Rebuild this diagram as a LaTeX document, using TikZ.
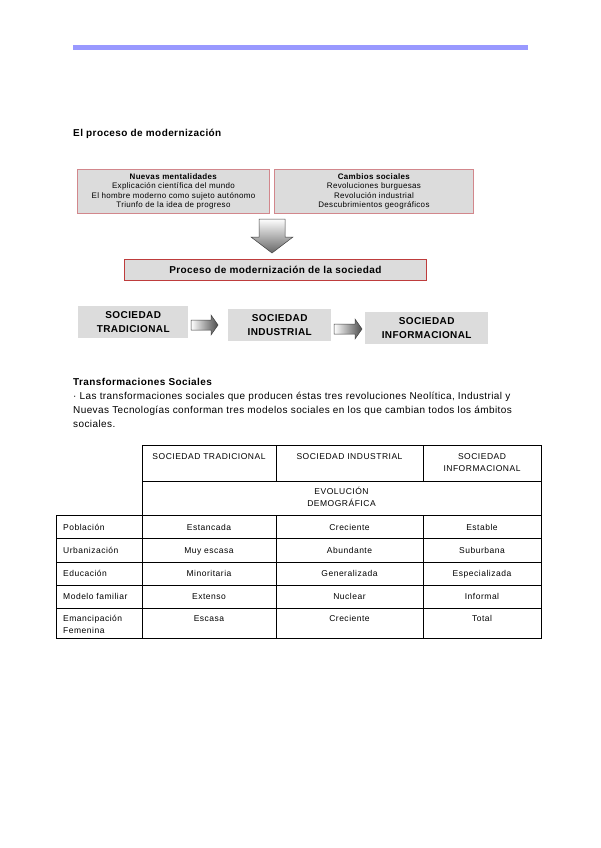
\documentclass[tikz,border=0pt]{standalone}
\usepackage{fontspec}
\setmainfont{Liberation Sans}[LetterSpace=4]
\newfontfamily\tabfont[LetterSpace=6]{Liberation Sans}
\usepackage{tikz}
\usetikzlibrary{positioning,calc}

\definecolor{barraAzul}{RGB}{153,153,255}
\definecolor{grisCaja}{RGB}{220,220,220}
\definecolor{bordeRosa}{RGB}{210,135,140}
\definecolor{bordeRojo}{RGB}{190,60,60}

\begin{document}
\begin{tikzpicture}[
    x=1pt, y=-1pt,
    idea/.style={draw=bordeRosa, fill=grisCaja, line width=0.9pt, inner sep=0pt,
                 anchor=north west, align=center, font=\fontsize{8}{9.4}\selectfont},
    sociedad/.style={fill=grisCaja, inner sep=0pt, anchor=north west, align=center,
                     font=\bfseries\fontsize{10}{14}\selectfont},
    celda/.style={anchor=base, align=center, inner sep=0pt,
                  font=\tabfont\fontsize{8.5}{12}\selectfont},
    rotulo/.style={celda, anchor=base west, align=left},
    tabla/.style={line width=0.9pt},
    flecha/.style={draw=black!75, line width=0.5pt}
]
    \useasboundingbox (0,0) rectangle (600,848);
    \fill[barraAzul] (73,45) rectangle (528,50);

    % el proceso de modernizacion
    \node[anchor=base west, inner sep=0pt, font=\bfseries] (titulo) at (73,136)
        {El proceso de modernización};
    \node[idea, minimum width=192pt, minimum height=44pt] (ment) at (77,169)
        {\textbf{Nuevas mentalidades}\\Explicación científica del mundo\\
         El hombre moderno como sujeto autónomo\\Triunfo de la idea de progreso};
    \node[idea, minimum width=199pt, minimum height=44pt] (camb) at (274,169)
        {\textbf{Cambios sociales}\\Revoluciones burguesas\\
         Revolución industrial\\Descubrimientos geográficos};
    \shadedraw[flecha, top color=white, bottom color=black!60]
        (259,219) -- (285,219) -- (285,237) -- (293,237) -- (272,253)
        -- (251,237) -- (259,237) -- cycle;
    \node[idea, draw=bordeRojo, minimum width=302pt, minimum height=21pt,
          font=\bfseries\fontsize{10}{12}\selectfont] (proc) at (124,259)
        {Proceso de modernización de la sociedad};

    % tres sociedades
    \node[sociedad, minimum width=110pt, minimum height=32pt] (trad) at (78,306)
        {SOCIEDAD\\TRADICIONAL};
    \node[sociedad, minimum width=103pt, minimum height=32pt] (ind) at (228,309)
        {SOCIEDAD\\INDUSTRIAL};
    \node[sociedad, minimum width=123pt, minimum height=32pt] (inf) at (365,312)
        {SOCIEDAD\\INFORMACIONAL};
    \shadedraw[flecha, left color=white, right color=black!70]
        (191,320) -- (211,320) -- (211,315) -- (218,325) -- (211,335)
        -- (211,330) -- (191,330) -- cycle;
    \shadedraw[flecha, left color=white, right color=black!70]
        (334,324) -- (355,324) -- (355,319) -- (362,329) -- (355,339)
        -- (355,334) -- (334,334) -- cycle;

    % transformaciones sociales
    \node[anchor=base west, inner sep=0pt, font=\bfseries] (trans) at (73,385)
        {Transformaciones Sociales};
    \node[anchor=base west, inner sep=0pt, align=left,
          font=\fontsize{10}{14}\selectfont] (parr) at (73,427.5)
        {· Las transformaciones sociales que producen éstas tres revoluciones Neolítica, Industrial y\\
         Nuevas Tecnologías conforman tres modelos sociales en los que cambian todos los ámbitos\\
         sociales.};

    % tabla
    \draw[tabla] (142,445) rectangle (541,515);
    \draw[tabla] (142,481) -- (541,481);
    \draw[tabla] (276,445) -- (276,481) (423,445) -- (423,481);
    \draw[tabla] (56,515) rectangle (541,638);
    \foreach \y in {538,562,585,608}
        \draw[tabla] (56,\y) -- (541,\y);
    \foreach \x in {142,276,423}
        \draw[tabla] (\x,515) -- (\x,638);

    \node[celda] (hTrad) at (209,459) {SOCIEDAD TRADICIONAL};
    \node[celda] (hInd) at (349.5,459) {SOCIEDAD INDUSTRIAL};
    \node[celda] (hInf) at (482,471) {SOCIEDAD\\INFORMACIONAL};
    \node[celda] (evo) at (341.5,506) {EVOLUCIÓN\\DEMOGRÁFICA};

    \foreach \y/\rot/\a/\b/\c [count=\i] in {
        530/Población/Estancada/Creciente/Estable,
        553/Urbanización/Muy escasa/Abundante/Suburbana,
        576/Educación/Minoritaria/Generalizada/Especializada,
        599/Modelo familiar/Extenso/Nuclear/Informal}{
        \node[rotulo] (rot\i) at (63,\y) {\rot};
        \node[celda] (a\i) at (209,\y) {\a};
        \node[celda] (b\i) at (349.5,\y) {\b};
        \node[celda] (c\i) at (482,\y) {\c};
    }
    \node[rotulo] (rot5) at (63,633.5) {Emancipación\\Femenina};
    \node[celda] (a5) at (209,621.5) {Escasa};
    \node[celda] (b5) at (349.5,621.5) {Creciente};
    \node[celda] (c5) at (482,621.5) {Total};
\end{tikzpicture}
\end{document}
